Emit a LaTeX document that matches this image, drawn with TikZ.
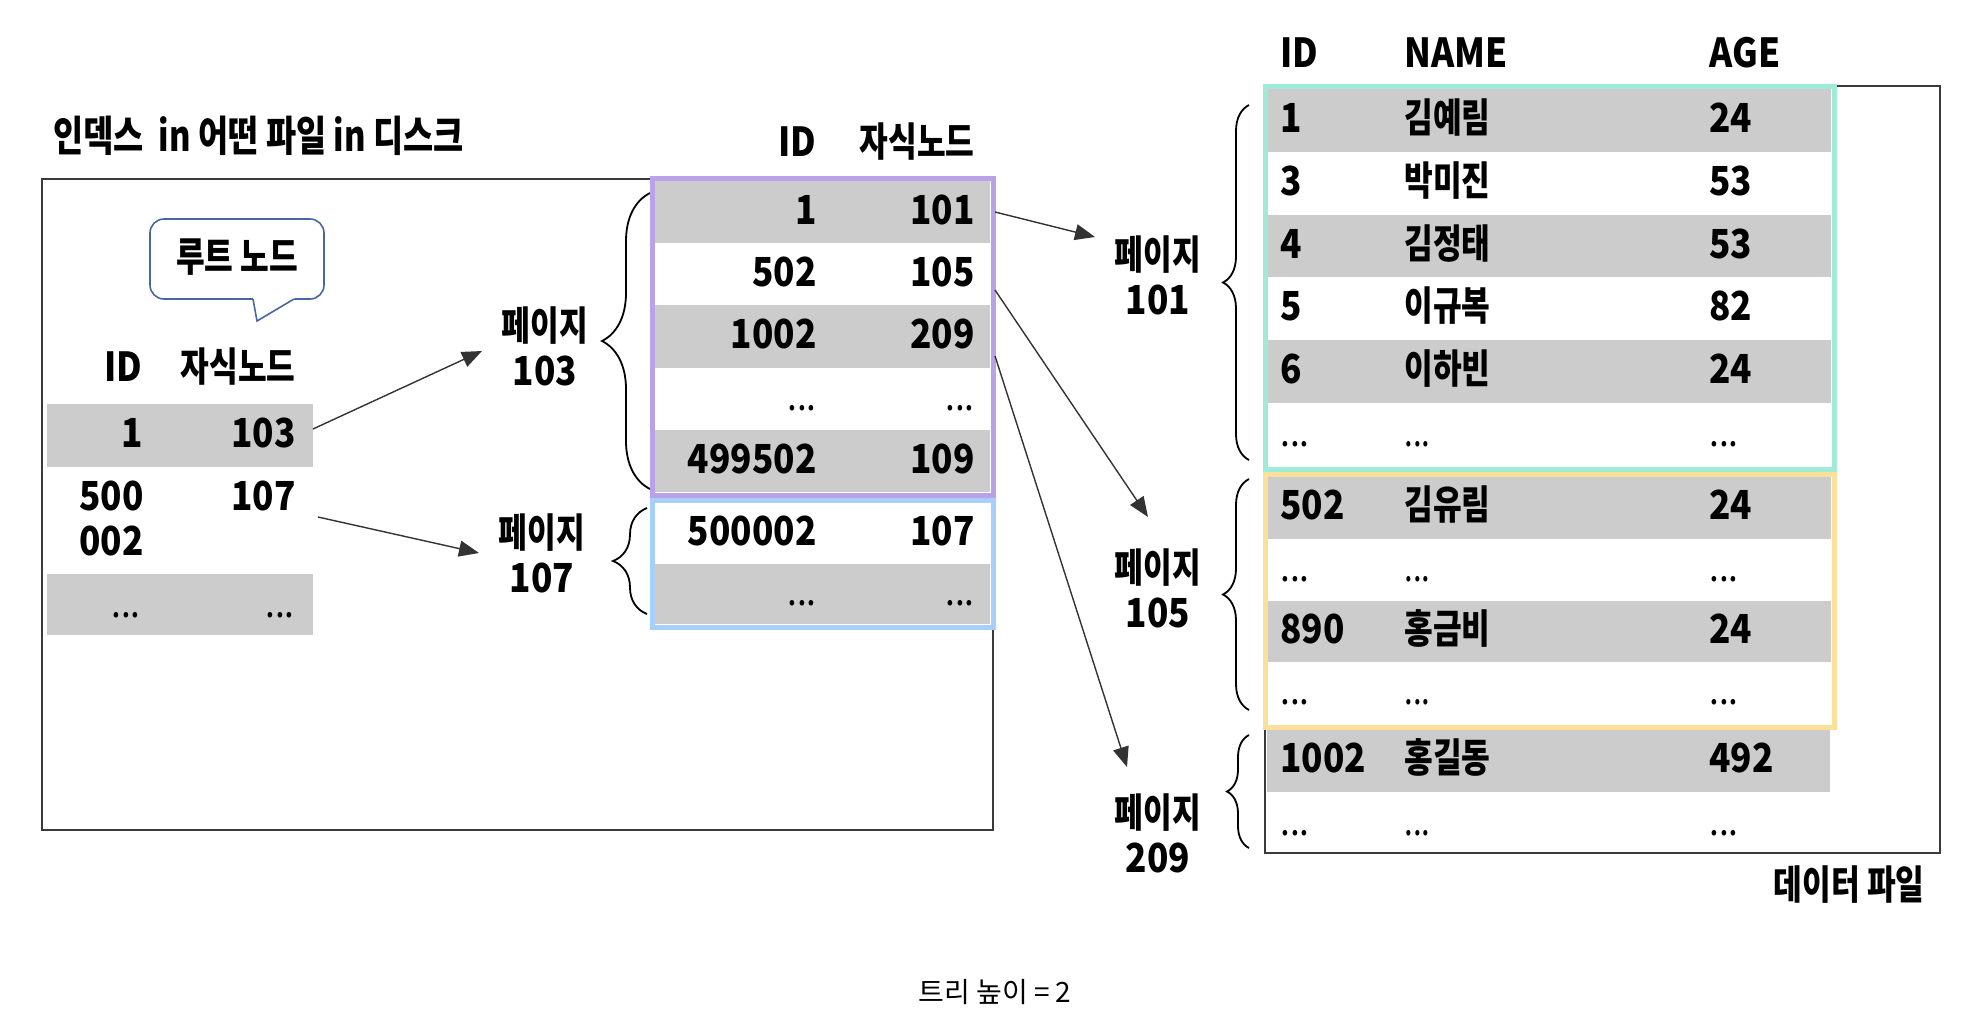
\documentclass[tikz,border=0pt]{standalone}
\usepackage{fontspec}
\setmainfont{Noto Sans CJK KR}[FakeStretch=0.88]
\newfontfamily\krfont{Noto Sans CJK KR}[FakeStretch=0.78]
\newfontfamily\capfont{Noto Sans CJK KR}
\usetikzlibrary{arrows.meta,decorations.pathreplacing}
\definecolor{rowgray}{HTML}{CCCCCC}
\definecolor{purp}{HTML}{B9A2E8}
\definecolor{sky}{HTML}{A8CFFA}
\definecolor{mint}{HTML}{A0EAD8}
\definecolor{butter}{HTML}{FBE09A}
\definecolor{bubblue}{HTML}{4A66A0}
\definecolor{framecol}{HTML}{3A3A3A}
\newcommand\numfont{\fontsize{20pt}{22.5pt}\selectfont\bfseries}
\newcommand\dts{{\mdseries ...}}
\newcommand\drow[5]{%
  \node[num, anchor=base west] (#1id) at (1280,#2) {#3};
  \node[kr, anchor=base west] (#1nm) at (1404,#2) {#4};
  \node[num, anchor=base west] (#1ag) at (1709,#2) {#5};}
\begin{document}
\begin{tikzpicture}[x=0.5pt,y=-0.5pt,
  num/.style={inner sep=0pt, font=\numfont},
  kr/.style={inner sep=0pt, font=\krfont\numfont},
  plabel/.style={inner sep=0pt, align=center, font=\numfont},
  grayrow/.style={fill=rowgray},
  pagebox/.style={line width=2.5pt},
  outer/.style={draw=framecol, line width=1pt},
  arr/.style={draw=black!80, line width=0.7pt, -{Triangle[length=10pt,width=8pt]}},
  bigbrace/.style={draw=black, line width=0.9pt, decorate, decoration={brace, amplitude=#1}},
]
\useasboundingbox (0,0) rectangle (1978,1030);

% ---------- index file box ----------
\node[kr, anchor=base west, font=\krfont\fontsize{21pt}{24pt}\selectfont\bfseries] (title) at (53,151) {인덱스 \ in 어떤 파일 in 디스크};
\draw[outer] (42,179) rectangle (993,830);

% speech bubble
\node[draw=bubblue, line width=0.8pt, rounded corners=7pt, fill=white,
      minimum width=87pt, minimum height=40pt, inner sep=0pt] (bubble) at (237,259) {};
\fill[white] (253,296) -- (296,296) -- (294,299) -- (257,321) -- (253,299) -- cycle;
\draw[draw=bubblue, line width=0.8pt] (253,299) -- (257,321) -- (294,299);
\node[kr] (rootlbl) at (237,257) {루트 노드};

% root table
\node[num, anchor=base east] (rhid) at (143,381) {ID};
\node[kr, anchor=base east] (rhch) at (296,381) {자식노드};
\fill[grayrow] (47,404) rectangle (313,467);
\fill[grayrow] (47,574) rectangle (313,635);
\node[num, anchor=base east] (r1a) at (143,447) {1};
\node[num, anchor=base east] (r1b) at (296,447) {103};
\node[num, anchor=base east] (r2a) at (144,510) {500};
\node[num, anchor=base east] (r2c) at (144,555) {002};
\node[num, anchor=base east] (r2b) at (296,510) {107};
\node[num, anchor=base east] (r3a) at (141,617) {\dts};
\node[num, anchor=base east] (r3b) at (295,617) {\dts};

% page labels
\node[plabel] (p103) at (545,346) {{\krfont 페이지}\\103};
\node[plabel] (p107) at (542,553) {{\krfont 페이지}\\107};
\draw[bigbrace=24pt] (650,489) -- (650,193);
\draw[bigbrace=17pt] (647,614) -- (647,508);

% middle table
\node[num, anchor=base east] (mhid) at (817,156) {ID};
\node[kr, anchor=base east] (mhch) at (975,156) {자식노드};
\fill[grayrow] (655,181) rectangle (990,243.2);
\fill[grayrow] (655,305.4) rectangle (990,367.6);
\fill[grayrow] (655,429.8) rectangle (990,492);
\fill[grayrow] (655,563.5) rectangle (990,624);
\draw[pagebox, purp] (652,178) rectangle (993,495);
\draw[pagebox, sky] (652,500) rectangle (993,627);
\node[num, anchor=base east] (m1a) at (817,224) {1};
\node[num, anchor=base east] (m1b) at (975,224) {101};
\node[num, anchor=base east] (m2a) at (817,286) {502};
\node[num, anchor=base east] (m2b) at (975,286) {105};
\node[num, anchor=base east] (m3a) at (817,348) {1002};
\node[num, anchor=base east] (m3b) at (975,348) {209};
\node[num, anchor=base east] (m4a) at (817,410) {\dts};
\node[num, anchor=base east] (m4b) at (975,410) {\dts};
\node[num, anchor=base east] (m5a) at (817,473) {499502};
\node[num, anchor=base east] (m5b) at (975,473) {109};
\node[num, anchor=base east] (m6a) at (817,545) {500002};
\node[num, anchor=base east] (m6b) at (975,545) {107};
\node[num, anchor=base east] (m7a) at (817,605) {\dts};
\node[num, anchor=base east] (m7b) at (975,605) {\dts};

% ---------- data file ----------
\draw[outer] (1265,86) rectangle (1940,853);
\node[num, anchor=base west] (dhid) at (1280,67) {ID};
\node[num, anchor=base west] (dhname) at (1404,67) {NAME};
\node[num, anchor=base west] (dhage) at (1709,67) {AGE};
\fill[grayrow] (1268,89) rectangle (1831,151.8);
\fill[grayrow] (1268,214.6) rectangle (1831,277.4);
\fill[grayrow] (1268,340.2) rectangle (1831,403);
\fill[grayrow] (1268,477) rectangle (1831,538.75);
\fill[grayrow] (1268,600.5) rectangle (1831,662.25);
\fill[grayrow] (1267,729) rectangle (1830,792);
\draw[pagebox, mint] (1265,86) rectangle (1834,469);
\draw[pagebox, butter] (1265,474) rectangle (1834,727);

\drow{da}{132}{1}{김예림}{24}
\drow{db}{195}{3}{박미진}{53}
\drow{dc}{258}{4}{김정태}{53}
\drow{dd}{320}{5}{이규복}{82}
\drow{de}{383}{6}{이하빈}{24}
\drow{df}{446}{\dts}{\dts}{\dts}
\drow{dg}{519}{502}{김유림}{24}
\drow{dh}{581}{\dts}{\dts}{\dts}
\drow{di}{643}{890}{홍금비}{24}
\drow{dj}{704}{\dts}{\dts}{\dts}
\drow{dk}{772}{1002}{홍길동}{492}
\drow{dl}{835}{\dts}{\dts}{\dts}
\node[kr, anchor=base east] (dlbl) at (1925,899) {데이터 파일};

% data page labels and braces
\node[plabel] (p101) at (1158,275) {{\krfont 페이지}\\101};
\node[plabel] (p105) at (1158,588) {{\krfont 페이지}\\105};
\node[plabel] (p209) at (1158,833) {{\krfont 페이지}\\209};
\draw[bigbrace=13pt] (1249,460) -- (1249,105);
\draw[bigbrace=13pt] (1249,710) -- (1249,479);
\draw[bigbrace=11pt] (1249,848) -- (1249,735);

% ---------- arrows ----------
\coordinate (r1e) at (313,429); \coordinate (t103) at (482,351);
\coordinate (r2e) at (318,517); \coordinate (t107) at (479,553);
\coordinate (m1e) at (995,212); \coordinate (t101) at (1095,237);
\coordinate (m2e) at (995,290); \coordinate (t105) at (1148,517);
\coordinate (m3e) at (995,356); \coordinate (t209) at (1127,767);
\draw[arr] (r1e) -- (t103);
\draw[arr] (r2e) -- (t107);
\draw[arr] (m1e) -- (t101);
\draw[arr] (m2e) -- (t105);
\draw[arr] (m3e) -- (t209);

% caption
\node[inner sep=0pt, font=\capfont\fontsize{14pt}{16pt}\selectfont] (caption) at (995,992) {트리 높이 = 2};
\end{tikzpicture}
\end{document}
